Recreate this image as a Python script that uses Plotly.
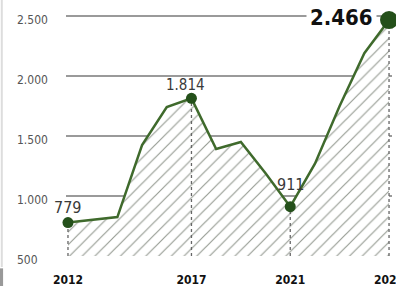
import plotly.graph_objects as go

years = list(range(2012, 2026))
values = [779, 800, 825, 1425, 1742, 1814, 1392, 1450, 1190, 911, 1270, 1750, 2190, 2466]

key_years = [2012, 2017, 2021, 2025]
key_values = [779, 1814, 911, 2466]
key_labels = ["779", "1.814", "911", "2.466"]

y_ticks = [500, 1000, 1500, 2000, 2500]
y_ticktext = ["500", "1.000", "1.500", "2.000", "2.500"]
x_ticktext = ["2012", "2017", "2021", "2025"]

FONT = "DejaVu Sans Condensed, DejaVu Sans, sans-serif"
LINE = "#3f6a2c"
DOT = "#24501a"

fig = go.Figure()

# baseline for fill
fig.add_trace(go.Scatter(x=years, y=[y_ticks[0]] * len(years), mode="lines",
                         line=dict(width=0, color="rgba(0,0,0,0)"),
                         hoverinfo="skip", showlegend=False))
fig.add_trace(go.Scatter(x=years, y=values, mode="lines",
                         line=dict(color=LINE, width=2.5),
                         fill="tonexty", fillcolor="rgba(0,0,0,0)",
                         fillpattern=dict(shape="/", fgcolor="#2e3a28", bgcolor="white",
                                          size=9, solidity=0.13),
                         showlegend=False))

# dotted drop lines
for yr, v in zip(key_years, key_values):
    fig.add_trace(go.Scatter(x=[yr, yr], y=[y_ticks[0], v], mode="lines",
                             line=dict(color="#666666", width=1.3, dash="dot"),
                             showlegend=False, hoverinfo="skip"))

fig.add_trace(go.Scatter(x=key_years, y=key_values, mode="markers",
                         marker=dict(color=DOT, size=[11, 11, 11, 18], opacity=1,
                                     line=dict(width=0)),
                         cliponaxis=False, showlegend=False))

# value labels
label_cfg = [
    dict(xshift=0, yshift=15, size=16, bold=False, xanchor="center"),
    dict(xshift=-6, yshift=13, size=15, bold=False, xanchor="center"),
    dict(xshift=0, yshift=22, size=16, bold=False, xanchor="center"),
    dict(xshift=-12, yshift=3, size=22, bold=True, xanchor="right"),
]
for yr, v, t, c in zip(key_years, key_values, key_labels, label_cfg):
    fig.add_annotation(x=yr, y=v, text=f"<b>{t}</b>" if c["bold"] else t,
                       showarrow=False, xanchor=c["xanchor"], yanchor="middle",
                       xshift=c["xshift"], yshift=c["yshift"],
                       bgcolor="white" if c["bold"] else None,
                       borderpad=3 if c["bold"] else 0,
                       font=dict(family=FONT, size=c["size"],
                                 color="#111111" if c["bold"] else "#3a3a3a"))

# y tick labels, left aligned
for v, t in zip(y_ticks, y_ticktext):
    fig.add_annotation(x=-0.157, xref="paper", y=v, yref="y", text=t,
                       showarrow=False, xanchor="left", yanchor="middle", yshift=-4,
                       font=dict(family=FONT, size=12, color="#555555"))

# decorative left border
fig.add_shape(type="line", xref="paper", yref="paper", x0=-0.197, x1=-0.197, y0=-0.04, y1=1.02,
              line=dict(color="#dddddd", width=2))
fig.add_shape(type="rect", xref="paper", yref="paper", x0=-0.203, x1=-0.193, y0=-0.13, y1=-0.045,
              line=dict(width=0), fillcolor="#999999")

fig.update_layout(
    width=396, height=286,
    margin=dict(l=66, r=4, t=5, b=29),
    paper_bgcolor="white", plot_bgcolor="white",
    xaxis=dict(range=[2011.92, 2025.12], tickvals=key_years, ticktext=x_ticktext,
               showgrid=False, zeroline=False, showline=False, ticks="",
               tickfont=dict(family=FONT, size=12, color="#111111", weight="bold"),
               ticklabelstandoff=14, ticklabeloverflow="allow", automargin=False),
    yaxis=dict(range=[492, 2592], tickvals=y_ticks, showticklabels=False,
               showgrid=True, gridcolor="#9a9a9a", gridwidth=1.5,
               zeroline=False, showline=False, ticks="", automargin=False),
)

fig.write_html("out.html", config={"displayModeBar": False},
               post_script="document.body.style.margin='0';")
